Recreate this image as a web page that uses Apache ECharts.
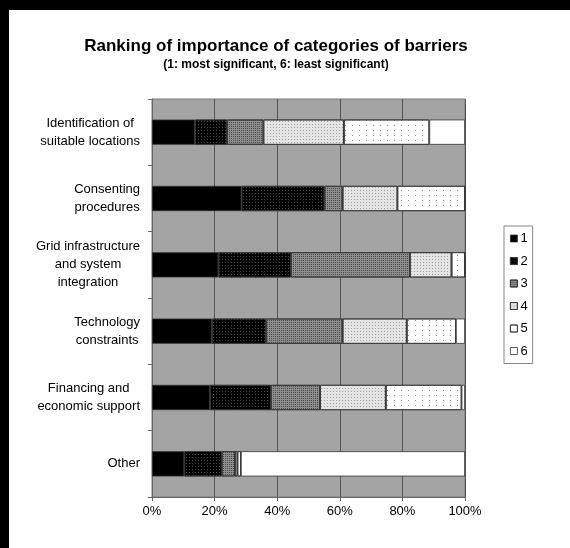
<!DOCTYPE html>
<html>
<head>
<meta charset="utf-8">
<script src="https://cdn.jsdelivr.net/npm/echarts@6/dist/echarts.min.js"></script>
<style>
  html, body { margin: 0; padding: 0; background: #000; }
  #wrap { position: absolute; left: 0; top: 0; width: 570px; height: 548px; background: #000; }
  #chart { position: absolute; left: 9px; top: 10px; width: 561px; height: 538px; background: #fff; }
</style>
</head>
<body>
<div id="wrap"><div id="chart"></div></div>
<script>
const titleText = 'Ranking of importance of categories of barriers';
const subtitleText = '(1: most significant, 6: least significant)';
const categories = [
  'Identification of\nsuitable locations',
  'Consenting\nprocedures',
  'Grid infrastructure\nand system\nintegration',
  'Technology\nconstraints',
  'Financing and\neconomic support',
  'Other'
];
const seriesNames = ['1', '2', '3', '4', '5', '6'];
const rank1 = [13.7, 28.6, 21.2, 19.1, 18.5, 10.3];
const rank2 = [10.3, 26.5, 23.2, 17.3, 19.5, 12.0];
const rank3 = [11.6, 5.8, 38.0, 24.5, 15.7, 4.2];
const rank4 = [25.7, 17.5, 13.3, 20.5, 21.0, 0.8];
const rank5 = [27.3, 21.6, 4.3, 15.7, 24.2, 1.1];
const rank6 = [11.4, 0, 0, 2.9, 1.1, 71.6];
const xTicks = [0, 20, 40, 60, 80, 100];

const FONT = "'Liberation Sans', Arial, sans-serif";
const styles = [
  { color: '#000000' },
  { color: '#000000', decal: { symbol: 'rect', symbolSize: 1, color: '#4a4a4a', dashArrayX: [1, 2], dashArrayY: [1, 2] } },
  { color: '#8e8e8e', decal: { symbol: 'rect', symbolSize: 1, color: '#4a4a4a', dashArrayX: [1, 1], dashArrayY: [1, 1] } },
  { color: '#e4e4e4', decal: { symbol: 'rect', symbolSize: 1, color: '#a0a0a0', dashArrayX: [1, 2], dashArrayY: [1, 2] } },
  { color: '#ffffff', decal: { symbol: 'rect', symbolSize: 1, color: '#8a8a8a', dashArrayX: [1, 6], dashArrayY: [1, 4] } },
  { color: '#ffffff' }
];
const data = [rank1, rank2, rank3, rank4, rank5, rank6];

const chart = echarts.init(document.getElementById('chart'), null, { renderer: 'canvas' });
chart.setOption({
  backgroundColor: '#ffffff',
  animation: false,
  textStyle: { fontFamily: FONT },
  graphic: [
    { type: 'text', x: 267, y: 36, style: { text: titleText, textAlign: 'center', textVerticalAlign: 'middle', font: "bold 17px 'Liberation Sans', Arial, sans-serif", fill: '#000' } },
    { type: 'text', x: 267, y: 55, style: { text: subtitleText, textAlign: 'center', textVerticalAlign: 'middle', font: "bold 12px 'Liberation Sans', Arial, sans-serif", fill: '#000' } }
  ],
  legend: {
    orient: 'vertical',
    left: 495,
    top: 216,
    icon: 'rect',
    itemWidth: 7,
    itemHeight: 7,
    itemGap: 9.5,
    padding: [6, 5, 6, 6],
    borderColor: '#888',
    borderWidth: 1,
    data: seriesNames,
    itemStyle: { borderWidth: 0.8, borderColor: '#333' },
    textStyle: { fontSize: 13, color: '#000', fontFamily: FONT, padding: [0, 0, 0, -2] }
  },
  grid: {
    left: 143, top: 89, width: 313, height: 398,
    show: true, backgroundColor: '#a4a4a4', borderColor: '#7a7a7a', borderWidth: 1,
    containLabel: false
  },
  xAxis: {
    type: 'value', min: 0, max: 100, interval: 20,
    axisLine: { show: true, lineStyle: { color: '#666', width: 1 } },
    axisTick: { show: true, length: 4, lineStyle: { color: '#666' } },
    splitLine: { show: true, lineStyle: { color: '#555', width: 1 } },
    axisLabel: { formatter: '{value}%', fontSize: 13, color: '#000', margin: 8, fontFamily: FONT }
  },
  yAxis: {
    type: 'category', inverse: true, data: categories,
    axisLine: { show: true, lineStyle: { color: '#666', width: 1 } },
    axisTick: { show: true, length: 4, lineStyle: { color: '#666' } },
    splitLine: { show: false },
    axisLabel: {
      margin: 12, color: '#000',
      formatter: function (v) { return v.split('\n').map(function (l) { return '{c|' + l + '}'; }).join('\n'); },
      rich: { c: { align: 'center', fontSize: 13, lineHeight: 18, color: '#000', fontFamily: FONT } }
    }
  },
  series: seriesNames.map(function (name, i) {
    return {
      name: name, type: 'bar', stack: 'total', barWidth: '38%',
      data: data[i],
      itemStyle: Object.assign({ borderColor: '#333', borderWidth: 0.8 }, styles[i])
    };
  })
});
</script>
</body>
</html>
